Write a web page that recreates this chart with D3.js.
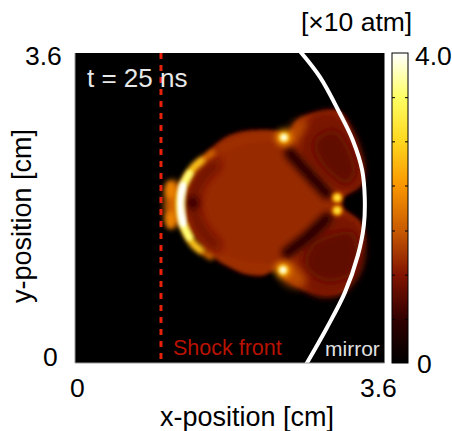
<!DOCTYPE html>
<html lang="en">

<head>
    <meta charset="utf-8">
    <title>Pressure map</title>
    <script src="https://d3js.org/d3.v7.min.js"></script>
    <style>
        html, body { margin: 0; background: #fff; }
        text { font-family: "Liberation Sans", Arial, sans-serif; }
    </style>
</head>

<body>
    <script type="text/javascript">

        var w = 452;
        var h = 431;

        // everything below is in cm, pressure in units of 10 atm
        var silhouette = [[1.16,1.86],[1.22,2.09],[1.37,2.26],[1.54,2.45],[1.77,2.63],[2.04,2.70],[2.39,2.68],[2.45,2.61],
                          [2.58,2.82],[2.85,2.92],[3.08,2.92],[3.25,2.6],[3.36,2.2],[3.33,2.08],[3.12,1.92],[3.11,1.86],
                          [3.12,1.80],[3.33,1.62],[3.36,1.4],[3.29,1.2],[3.14,0.85],[2.93,0.79],[2.62,0.87],[2.42,1.0],
                          [2.36,1.10],[2.19,1.02],[2.0,1.03],[1.69,1.18],[1.54,1.29],[1.37,1.49],[1.22,1.63]];
        var upperLobe = [[2.62,2.72],[2.9,2.92],[3.16,2.8],[3.36,2.3],[3.3,2.05],[3.1,2.0],[2.85,2.2],[2.65,2.4]];
        var lowerLobe = [[2.65,1.32],[3.1,1.72],[3.34,1.55],[3.34,1.1],[3.1,0.8],[2.8,0.78],[2.55,1.0]];
        var upperLobeCore = [[2.80,2.60],[3.02,2.70],[3.18,2.50],[3.26,2.2],[3.16,2.08],[2.95,2.22],[2.80,2.44]];
        var lowerLobeCore = [[2.76,1.38],[3.24,1.51],[3.24,1.05],[2.92,0.95],[2.68,1.12]];
        var upperRim = [[2.42,2.56],[2.58,2.80],[2.70,2.82],[2.56,2.56]];
        var lowerRim = [[2.41,0.96],[2.62,0.88],[2.70,0.94],[2.52,1.16]];
        var bumpPatch = [[1.08,2.1],[1.2,2.1],[1.2,1.6],[1.08,1.6]];
        var upperStreak = [[2.50,2.44],[2.68,2.24],[2.93,1.97]];
        var lowerStreak = [[2.47,1.28],[2.70,1.46],[2.93,1.68]];
        var innerShadow = [[1.63,2.30],[1.46,2.13],[1.37,1.86],[1.46,1.57],[1.63,1.37]];
        var topRim = [[1.69,2.47],[2.0,2.60],[2.39,2.62]];
        var bottomRim = [[1.69,1.22],[2.0,1.12],[2.39,1.10]];
        var arcGlow = [[1.60,2.44],[1.37,2.26],[1.25,2.04],[1.22,1.86],[1.25,1.63],[1.37,1.39],[1.58,1.23]];
        var arcMid = [[1.47,2.35],[1.37,2.26],[1.25,2.04],[1.22,1.86],[1.25,1.63],[1.37,1.39],[1.46,1.31]];
        var arcInner = [[1.33,2.20],[1.25,2.04],[1.22,1.86],[1.25,1.63],[1.33,1.46]];
        var arcCore = [[1.26,2.06],[1.22,1.86],[1.26,1.62]];
        var bumps = [[1.11,2.01],[1.11,1.66]];
        var hotSpots = [[2.43,2.62],[2.42,1.08]];
        var tipSpots = [[3.05,1.92],[3.05,1.77]];
        var shadowSpot = [1.37,1.86];

        var haloLevel = 0.5, silhouetteLevel = 1.32, lobeLevel = 1.08, lobeCoreLevel = 0.9, rimLevel = 1.6, patchLevel = 1.8, streakLevel = 0.5;
        var shadowLevel = 1.0, spotLevel = 0.68, edgeLevel = 1.42, glowLevel = 1.85, midLevel = 2.8, innerLevel = 3.5, coreLevel = 4, bumpLevel = 2.1;
        var hotLevels = [2.3, 3.2, 4];
        var tipLevels = [2.3, 3.1];

        var mirror = [[2.6,3.64],[2.85,3.32],[3.08,2.90],[3.23,2.59],[3.34,2.24],[3.37,1.93],[3.36,1.60],[3.29,1.25],[3.14,0.82],[2.93,0.41],[2.68,-0.03]];
        var shockX = 1.0;

        var colorStops = [0, 0.57, 1.14, 1.71, 2.29, 2.86, 3.43, 4];
        var colorValues = ["#000000", "#320000", "#821400", "#c85a00", "#fa9600", "#ffd71e", "#ffff64", "#ffffff"];
        var colorbarTicks = [0.57, 1.14, 1.71, 2.29, 2.86, 3.43];

        var color = d3.scaleLinear().domain(colorStops).range(colorValues);

        var x = d3.scaleLinear().domain([0, 3.6]).range([75, 384.5]);
        var y = d3.scaleLinear().domain([0, 3.6]).range([363, 53]);
        var cbar = d3.scaleLinear().domain([0, 4]).range([363, 53]);

        var svg = d3.select("body")
            .append("svg")
            .attr("width", w)
            .attr("height", h)
            .style("display", "block");

        var defs = svg.append("defs");
        defs.append("clipPath").attr("id", "plot")
            .append("rect")
            .attr("x", x(0)).attr("y", y(3.6))
            .attr("width", x(3.6) - x(0)).attr("height", y(0) - y(3.6));

        [0.8, 1, 1.5, 2, 3, 4, 5].forEach(function (s) {
            defs.append("filter").attr("id", "b" + String(s).replace(".", "_"))
                .attr("x", "-50%").attr("y", "-50%").attr("width", "200%").attr("height", "200%")
                .append("feGaussianBlur").attr("stdDeviation", s);
        });
        function soft(s) { return "url(#b" + String(s).replace(".", "_") + ")"; }

        var grad = defs.append("linearGradient").attr("id", "cb")
            .attr("x1", 0).attr("y1", 1).attr("x2", 0).attr("y2", 0);
        colorStops.forEach(function (v, i) {
            grad.append("stop").attr("offset", v / 4).attr("stop-color", colorValues[i]);
        });

        var closedLine = d3.line().x(function (d) { return x(d[0]); }).y(function (d) { return y(d[1]); })
            .curve(d3.curveCatmullRomClosed.alpha(0.5));
        var openLine = d3.line().x(function (d) { return x(d[0]); }).y(function (d) { return y(d[1]); })
            .curve(d3.curveCatmullRom.alpha(0.5));

        svg.append("rect")
            .attr("x", x(0)).attr("y", y(3.6))
            .attr("width", x(3.6) - x(0)).attr("height", y(0) - y(3.6))
            .attr("fill", "#000");

        var clip = svg.append("g").attr("clip-path", "url(#plot)");
        var map = clip.append("g").attr("filter", soft(0.8));

        function region(pts, level, s) {
            map.append("path").attr("d", closedLine(pts)).attr("fill", color(level)).attr("filter", soft(s));
        }
        function band(pts, level, width, s) {
            map.append("path").attr("d", openLine(pts)).attr("fill", "none")
                .attr("stroke", color(level)).attr("stroke-width", width)
                .attr("stroke-linecap", "round").attr("filter", soft(s));
        }
        function blob(p, level, r, s) {
            map.append("circle").attr("cx", x(p[0])).attr("cy", y(p[1])).attr("r", r)
                .attr("fill", color(level)).attr("filter", soft(s));
        }

        region(silhouette, haloLevel, 3);
        region(silhouette, silhouetteLevel, 1.5);
        region(upperLobe, lobeLevel, 3);
        region(lowerLobe, lobeLevel, 3);
        region(upperLobeCore, lobeCoreLevel, 5);
        region(lowerLobeCore, lobeCoreLevel, 5);
        region(upperRim, rimLevel, 4);
        region(lowerRim, rimLevel, 4);
        band(upperStreak, streakLevel, 12, 3);
        band(lowerStreak, streakLevel, 12, 3);
        band(innerShadow, shadowLevel, 12, 5);
        blob(shadowSpot, spotLevel, 7, 3);
        band(topRim, edgeLevel, 4, 3);
        band(bottomRim, edgeLevel, 4, 3);

        region(bumpPatch, patchLevel, 3);
        bumps.forEach(function (p) {
            map.append("ellipse").attr("cx", x(p[0])).attr("cy", y(p[1])).attr("rx", 5).attr("ry", 9)
                .attr("fill", color(bumpLevel)).attr("filter", soft(2));
        });
        band(arcGlow, glowLevel, 6, 2);
        band(arcMid, midLevel, 6, 2);
        band(arcInner, innerLevel, 7, 1.5);
        band(arcCore, coreLevel, 7, 1.5);

        hotSpots.forEach(function (p) {
            blob(p, hotLevels[0], 8, 3);
            blob(p, hotLevels[1], 4.5, 1.5);
            blob(p, hotLevels[2], 2.5, 1);
        });
        tipSpots.forEach(function (p) {
            blob(p, tipLevels[0], 5, 1.5);
            blob(p, tipLevels[1], 3, 1);
        });

        // mirror and shock front
        clip.append("path").attr("d", openLine(mirror)).attr("fill", "none")
            .attr("stroke", "#fff").attr("stroke-width", 4);
        clip.append("line")
            .attr("x1", x(shockX)).attr("x2", x(shockX))
            .attr("y1", y(3.6)).attr("y2", y(0))
            .attr("stroke", "#e6200a").attr("stroke-width", 3).attr("stroke-dasharray", "6 6");

        svg.append("path")
            .attr("d", "M" + x(0) + "," + y(3.6) + "V" + y(0) + "H" + x(3.6))
            .attr("fill", "none").attr("stroke", "#999").attr("stroke-width", 1);

        // texts inside the map
        svg.append("text").attr("x", 87).attr("y", 87).attr("font-size", 26).attr("fill", "#e8e8e8").text("t = 25 ns");
        svg.append("text").attr("x", 173).attr("y", 355).attr("font-size", 21.5).attr("fill", "#b81200").text("Shock front");
        svg.append("text").attr("x", 325).attr("y", 356).attr("font-size", 21).attr("fill", "#e0e0e0").text("mirror");

        // colorbar
        svg.append("rect")
            .attr("x", 392).attr("y", cbar(4)).attr("width", 16).attr("height", cbar(0) - cbar(4))
            .attr("fill", "url(#cb)").attr("stroke", "#000").attr("stroke-width", 1);
        svg.append("g").attr("transform", "translate(392,0)")
            .call(d3.axisRight(cbar).tickValues(colorbarTicks).tickSize(3).tickFormat(""))
            .call(function (g) { g.select(".domain").remove(); });
        svg.append("g").attr("transform", "translate(408,0)")
            .call(d3.axisLeft(cbar).tickValues(colorbarTicks).tickSize(3).tickFormat(""))
            .call(function (g) { g.select(".domain").remove(); });

        // outside labels
        svg.append("text").attr("x", 25).attr("y", 65).attr("font-size", 26.5).text("3.6");
        svg.append("text").attr("x", 43).attr("y", 366).attr("font-size", 26.5).text("0");
        svg.append("text").attr("x", 70).attr("y", 397).attr("font-size", 26.5).text("0");
        svg.append("text").attr("x", 360).attr("y", 397).attr("font-size", 26.5).text("3.6");
        svg.append("text").attr("x", 415).attr("y", 65).attr("font-size", 26.5).text("4.0");
        svg.append("text").attr("x", 417).attr("y", 373).attr("font-size", 26.5).text("0");
        svg.append("text").attr("x", 301).attr("y", 31).attr("font-size", 26.5).text("[×10 atm]");
        svg.append("text").attr("x", 160).attr("y", 426).attr("font-size", 27).text("x-position [cm]");
        svg.append("text").attr("transform", "translate(31,303) rotate(-90)").attr("font-size", 27).text("y-position [cm]");

    </script>
</body>

</html>
